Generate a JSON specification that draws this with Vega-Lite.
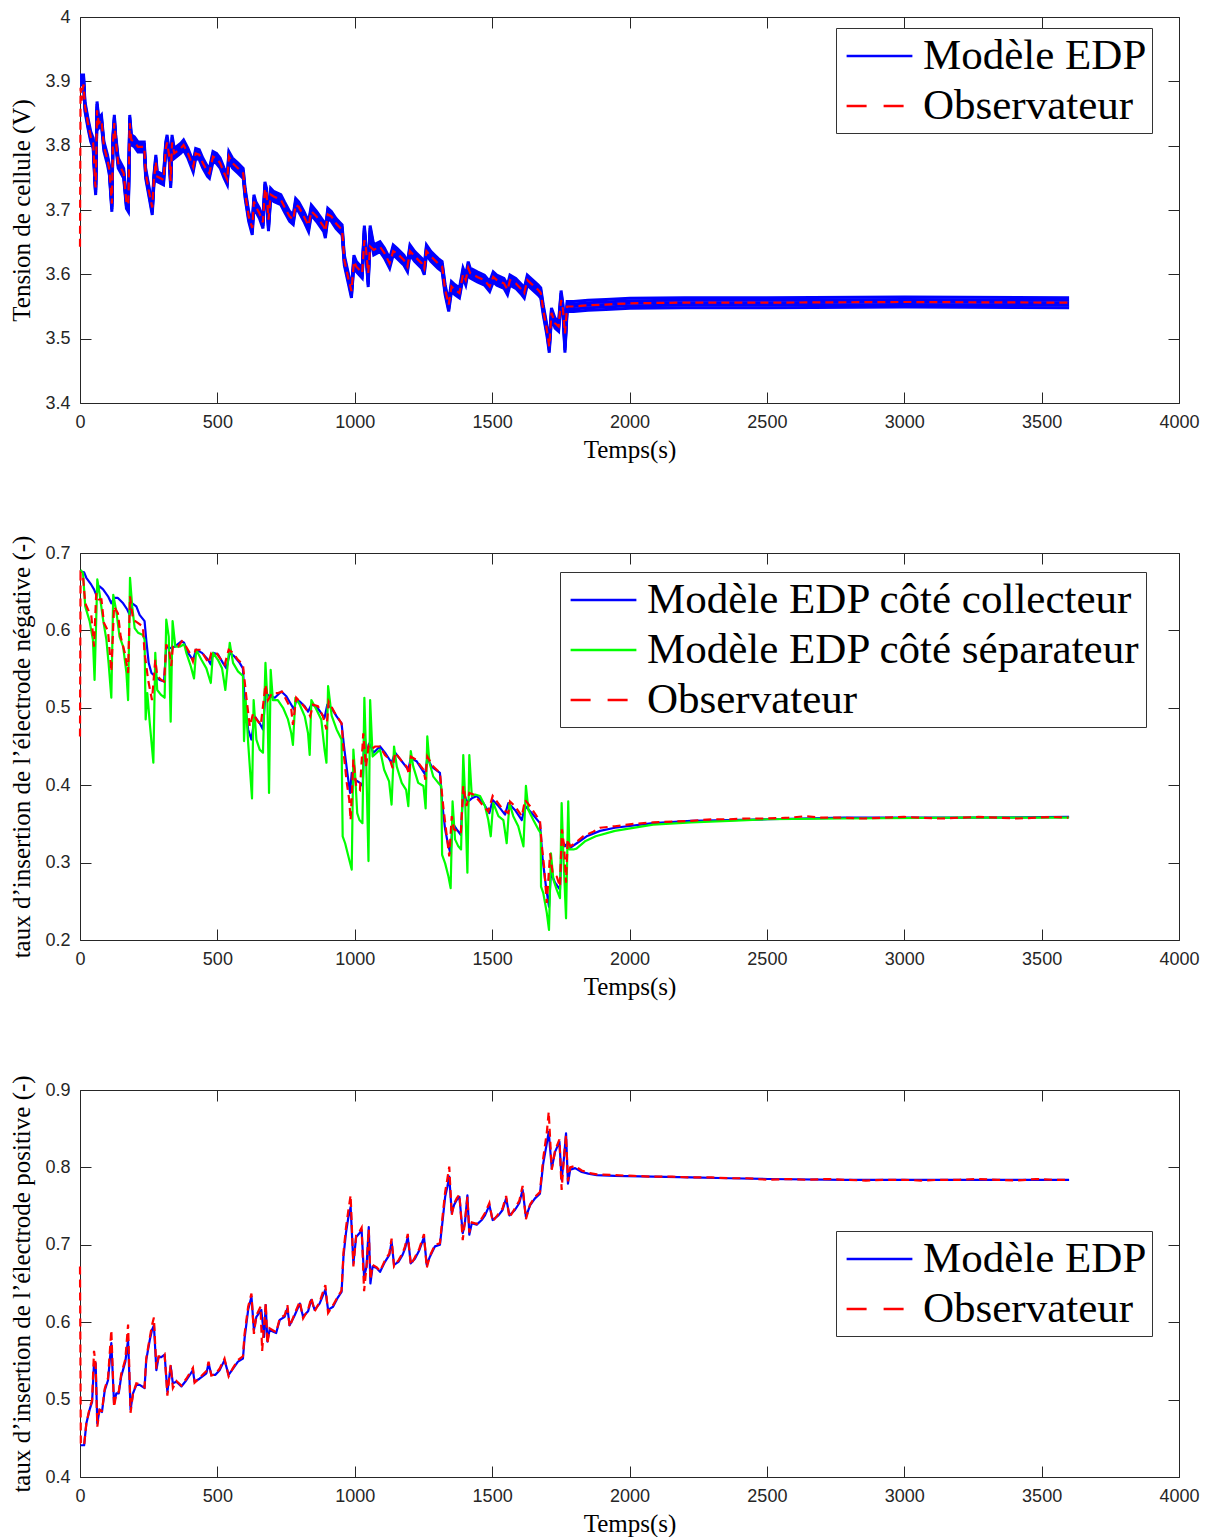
{
  "$schema": "https://vega.github.io/schema/vega-lite/v6.json",
  "background": "white",
  "padding": {"left": 9, "top": 8, "right": 5, "bottom": 5},
  "bounds": "flush",
  "spacing": 150,
  "datasets": {
    "p1": [
      {"s":"EDP","t":0,"v":3.902},{"s":"EDP","t":13,"v":3.902},{"s":"EDP","t":18,"v":3.861},{"s":"EDP","t":29,"v":3.835},{"s":"EDP","t":39,"v":3.814},{"s":"EDP","t":48,"v":3.804},{"s":"EDP","t":55,"v":3.742},{"s":"EDP","t":57,"v":3.731},{"s":"EDP","t":62,"v":3.861},{"s":"EDP","t":68,"v":3.835},{"s":"EDP","t":78,"v":3.84},{"s":"EDP","t":87,"v":3.799},{"s":"EDP","t":100,"v":3.778},{"s":"EDP","t":107,"v":3.762},{"s":"EDP","t":116,"v":3.705},{"s":"EDP","t":120,"v":3.809},{"s":"EDP","t":125,"v":3.84},{"s":"EDP","t":130,"v":3.809},{"s":"EDP","t":139,"v":3.773},{"s":"EDP","t":159,"v":3.757},{"s":"EDP","t":169,"v":3.71},{"s":"EDP","t":176,"v":3.705},{"s":"EDP","t":181,"v":3.84},{"s":"EDP","t":187,"v":3.809},{"s":"EDP","t":198,"v":3.806},{"s":"EDP","t":211,"v":3.798},{"s":"EDP","t":234,"v":3.798},{"s":"EDP","t":239,"v":3.757},{"s":"EDP","t":250,"v":3.731},{"s":"EDP","t":263,"v":3.7},{"s":"EDP","t":269,"v":3.747},{"s":"EDP","t":276,"v":3.778},{"s":"EDP","t":281,"v":3.752},{"s":"EDP","t":304,"v":3.747},{"s":"EDP","t":312,"v":3.798},{"s":"EDP","t":317,"v":3.809},{"s":"EDP","t":325,"v":3.783},{"s":"EDP","t":330,"v":3.742},{"s":"EDP","t":335,"v":3.809},{"s":"EDP","t":343,"v":3.788},{"s":"EDP","t":367,"v":3.796},{"s":"EDP","t":377,"v":3.801},{"s":"EDP","t":393,"v":3.788},{"s":"EDP","t":412,"v":3.767},{"s":"EDP","t":421,"v":3.788},{"s":"EDP","t":434,"v":3.786},{"s":"EDP","t":447,"v":3.773},{"s":"EDP","t":464,"v":3.76},{"s":"EDP","t":471,"v":3.757},{"s":"EDP","t":484,"v":3.783},{"s":"EDP","t":497,"v":3.78},{"s":"EDP","t":510,"v":3.773},{"s":"EDP","t":525,"v":3.757},{"s":"EDP","t":536,"v":3.747},{"s":"EDP","t":542,"v":3.783},{"s":"EDP","t":555,"v":3.773},{"s":"EDP","t":575,"v":3.765},{"s":"EDP","t":594,"v":3.757},{"s":"EDP","t":601,"v":3.726},{"s":"EDP","t":614,"v":3.69},{"s":"EDP","t":627,"v":3.669},{"s":"EDP","t":633,"v":3.716},{"s":"EDP","t":640,"v":3.705},{"s":"EDP","t":653,"v":3.695},{"s":"EDP","t":666,"v":3.679},{"s":"EDP","t":673,"v":3.736},{"s":"EDP","t":679,"v":3.726},{"s":"EDP","t":686,"v":3.675},{"s":"EDP","t":694,"v":3.726},{"s":"EDP","t":705,"v":3.721},{"s":"EDP","t":731,"v":3.716},{"s":"EDP","t":744,"v":3.705},{"s":"EDP","t":763,"v":3.69},{"s":"EDP","t":776,"v":3.685},{"s":"EDP","t":785,"v":3.71},{"s":"EDP","t":796,"v":3.705},{"s":"EDP","t":815,"v":3.69},{"s":"EDP","t":832,"v":3.674},{"s":"EDP","t":842,"v":3.7},{"s":"EDP","t":861,"v":3.69},{"s":"EDP","t":887,"v":3.674},{"s":"EDP","t":893,"v":3.664},{"s":"EDP","t":902,"v":3.695},{"s":"EDP","t":915,"v":3.69},{"s":"EDP","t":932,"v":3.679},{"s":"EDP","t":954,"v":3.669},{"s":"EDP","t":962,"v":3.622},{"s":"EDP","t":978,"v":3.591},{"s":"EDP","t":988,"v":3.571},{"s":"EDP","t":997,"v":3.622},{"s":"EDP","t":1006,"v":3.612},{"s":"EDP","t":1027,"v":3.602},{"s":"EDP","t":1035,"v":3.668},{"s":"EDP","t":1040,"v":3.643},{"s":"EDP","t":1049,"v":3.588},{"s":"EDP","t":1056,"v":3.668},{"s":"EDP","t":1069,"v":3.638},{"s":"EDP","t":1092,"v":3.643},{"s":"EDP","t":1108,"v":3.633},{"s":"EDP","t":1127,"v":3.617},{"s":"EDP","t":1140,"v":3.638},{"s":"EDP","t":1153,"v":3.633},{"s":"EDP","t":1179,"v":3.622},{"s":"EDP","t":1192,"v":3.612},{"s":"EDP","t":1201,"v":3.638},{"s":"EDP","t":1218,"v":3.628},{"s":"EDP","t":1244,"v":3.617},{"s":"EDP","t":1253,"v":3.607},{"s":"EDP","t":1261,"v":3.638},{"s":"EDP","t":1277,"v":3.628},{"s":"EDP","t":1303,"v":3.617},{"s":"EDP","t":1318,"v":3.612},{"s":"EDP","t":1329,"v":3.576},{"s":"EDP","t":1342,"v":3.55},{"s":"EDP","t":1352,"v":3.581},{"s":"EDP","t":1365,"v":3.576},{"s":"EDP","t":1381,"v":3.571},{"s":"EDP","t":1394,"v":3.602},{"s":"EDP","t":1404,"v":3.591},{"s":"EDP","t":1413,"v":3.612},{"s":"EDP","t":1420,"v":3.602},{"s":"EDP","t":1446,"v":3.596},{"s":"EDP","t":1472,"v":3.591},{"s":"EDP","t":1491,"v":3.581},{"s":"EDP","t":1504,"v":3.596},{"s":"EDP","t":1517,"v":3.591},{"s":"EDP","t":1543,"v":3.586},{"s":"EDP","t":1556,"v":3.576},{"s":"EDP","t":1565,"v":3.591},{"s":"EDP","t":1586,"v":3.586},{"s":"EDP","t":1608,"v":3.576},{"s":"EDP","t":1617,"v":3.571},{"s":"EDP","t":1628,"v":3.591},{"s":"EDP","t":1641,"v":3.586},{"s":"EDP","t":1667,"v":3.576},{"s":"EDP","t":1677,"v":3.571},{"s":"EDP","t":1686,"v":3.545},{"s":"EDP","t":1699,"v":3.514},{"s":"EDP","t":1708,"v":3.486},{"s":"EDP","t":1716,"v":3.54},{"s":"EDP","t":1729,"v":3.524},{"s":"EDP","t":1742,"v":3.519},{"s":"EDP","t":1751,"v":3.567},{"s":"EDP","t":1758,"v":3.545},{"s":"EDP","t":1765,"v":3.486},{"s":"EDP","t":1773,"v":3.55},{"s":"EDP","t":1797,"v":3.55},{"s":"EDP","t":1849,"v":3.552},{"s":"EDP","t":1914,"v":3.553},{"s":"EDP","t":2002,"v":3.555},{"s":"EDP","t":2200,"v":3.556},{"s":"EDP","t":2500,"v":3.556},{"s":"EDP","t":3000,"v":3.557},{"s":"EDP","t":3600,"v":3.556},
      {"s":"Obs","t":0,"v":3.643},{"s":"Obs","t":2,"v":3.89},{"s":"Obs","t":6,"v":3.87},{"s":"Obs","t":10,"v":3.89},{"s":"Obs","t":13,"v":3.895},{"s":"Obs","t":18,"v":3.861},{"s":"Obs","t":29,"v":3.835},{"s":"Obs","t":39,"v":3.814},{"s":"Obs","t":48,"v":3.804},{"s":"Obs","t":55,"v":3.742},{"s":"Obs","t":57,"v":3.735},{"s":"Obs","t":62,"v":3.855},{"s":"Obs","t":68,"v":3.835},{"s":"Obs","t":78,"v":3.84},{"s":"Obs","t":87,"v":3.799},{"s":"Obs","t":100,"v":3.778},{"s":"Obs","t":107,"v":3.762},{"s":"Obs","t":116,"v":3.71},{"s":"Obs","t":120,"v":3.805},{"s":"Obs","t":125,"v":3.835},{"s":"Obs","t":130,"v":3.809},{"s":"Obs","t":139,"v":3.773},{"s":"Obs","t":159,"v":3.757},{"s":"Obs","t":169,"v":3.712},{"s":"Obs","t":176,"v":3.708},{"s":"Obs","t":181,"v":3.835},{"s":"Obs","t":187,"v":3.809},{"s":"Obs","t":198,"v":3.806},{"s":"Obs","t":211,"v":3.798},{"s":"Obs","t":234,"v":3.798},{"s":"Obs","t":239,"v":3.757},{"s":"Obs","t":250,"v":3.731},{"s":"Obs","t":263,"v":3.704},{"s":"Obs","t":269,"v":3.747},{"s":"Obs","t":276,"v":3.775},{"s":"Obs","t":281,"v":3.752},{"s":"Obs","t":304,"v":3.747},{"s":"Obs","t":312,"v":3.795},{"s":"Obs","t":317,"v":3.805},{"s":"Obs","t":325,"v":3.783},{"s":"Obs","t":330,"v":3.745},{"s":"Obs","t":335,"v":3.805},{"s":"Obs","t":343,"v":3.788},{"s":"Obs","t":367,"v":3.796},{"s":"Obs","t":377,"v":3.801},{"s":"Obs","t":393,"v":3.788},{"s":"Obs","t":412,"v":3.767},{"s":"Obs","t":421,"v":3.788},{"s":"Obs","t":434,"v":3.786},{"s":"Obs","t":447,"v":3.773},{"s":"Obs","t":464,"v":3.76},{"s":"Obs","t":471,"v":3.757},{"s":"Obs","t":484,"v":3.783},{"s":"Obs","t":497,"v":3.78},{"s":"Obs","t":510,"v":3.773},{"s":"Obs","t":525,"v":3.757},{"s":"Obs","t":536,"v":3.747},{"s":"Obs","t":542,"v":3.783},{"s":"Obs","t":555,"v":3.773},{"s":"Obs","t":575,"v":3.765},{"s":"Obs","t":594,"v":3.757},{"s":"Obs","t":601,"v":3.726},{"s":"Obs","t":614,"v":3.69},{"s":"Obs","t":627,"v":3.672},{"s":"Obs","t":633,"v":3.713},{"s":"Obs","t":640,"v":3.705},{"s":"Obs","t":653,"v":3.695},{"s":"Obs","t":666,"v":3.681},{"s":"Obs","t":673,"v":3.733},{"s":"Obs","t":679,"v":3.726},{"s":"Obs","t":686,"v":3.685},{"s":"Obs","t":694,"v":3.724},{"s":"Obs","t":705,"v":3.721},{"s":"Obs","t":731,"v":3.716},{"s":"Obs","t":744,"v":3.705},{"s":"Obs","t":763,"v":3.69},{"s":"Obs","t":776,"v":3.685},{"s":"Obs","t":785,"v":3.708},{"s":"Obs","t":796,"v":3.705},{"s":"Obs","t":815,"v":3.69},{"s":"Obs","t":832,"v":3.676},{"s":"Obs","t":842,"v":3.698},{"s":"Obs","t":861,"v":3.69},{"s":"Obs","t":887,"v":3.674},{"s":"Obs","t":893,"v":3.667},{"s":"Obs","t":902,"v":3.693},{"s":"Obs","t":915,"v":3.69},{"s":"Obs","t":932,"v":3.679},{"s":"Obs","t":954,"v":3.669},{"s":"Obs","t":962,"v":3.622},{"s":"Obs","t":978,"v":3.591},{"s":"Obs","t":988,"v":3.574},{"s":"Obs","t":997,"v":3.62},{"s":"Obs","t":1006,"v":3.612},{"s":"Obs","t":1027,"v":3.602},{"s":"Obs","t":1035,"v":3.653},{"s":"Obs","t":1040,"v":3.643},{"s":"Obs","t":1049,"v":3.602},{"s":"Obs","t":1056,"v":3.643},{"s":"Obs","t":1069,"v":3.638},{"s":"Obs","t":1092,"v":3.643},{"s":"Obs","t":1108,"v":3.633},{"s":"Obs","t":1127,"v":3.617},{"s":"Obs","t":1140,"v":3.636},{"s":"Obs","t":1153,"v":3.633},{"s":"Obs","t":1179,"v":3.622},{"s":"Obs","t":1192,"v":3.612},{"s":"Obs","t":1201,"v":3.636},{"s":"Obs","t":1218,"v":3.628},{"s":"Obs","t":1244,"v":3.617},{"s":"Obs","t":1253,"v":3.609},{"s":"Obs","t":1261,"v":3.636},{"s":"Obs","t":1277,"v":3.628},{"s":"Obs","t":1303,"v":3.617},{"s":"Obs","t":1318,"v":3.612},{"s":"Obs","t":1329,"v":3.576},{"s":"Obs","t":1342,"v":3.553},{"s":"Obs","t":1352,"v":3.581},{"s":"Obs","t":1365,"v":3.576},{"s":"Obs","t":1381,"v":3.571},{"s":"Obs","t":1394,"v":3.6},{"s":"Obs","t":1404,"v":3.591},{"s":"Obs","t":1413,"v":3.61},{"s":"Obs","t":1420,"v":3.602},{"s":"Obs","t":1446,"v":3.596},{"s":"Obs","t":1472,"v":3.591},{"s":"Obs","t":1491,"v":3.581},{"s":"Obs","t":1504,"v":3.596},{"s":"Obs","t":1517,"v":3.591},{"s":"Obs","t":1543,"v":3.586},{"s":"Obs","t":1556,"v":3.576},{"s":"Obs","t":1565,"v":3.591},{"s":"Obs","t":1586,"v":3.586},{"s":"Obs","t":1608,"v":3.576},{"s":"Obs","t":1617,"v":3.571},{"s":"Obs","t":1628,"v":3.591},{"s":"Obs","t":1641,"v":3.586},{"s":"Obs","t":1667,"v":3.576},{"s":"Obs","t":1677,"v":3.571},{"s":"Obs","t":1686,"v":3.545},{"s":"Obs","t":1699,"v":3.514},{"s":"Obs","t":1708,"v":3.488},{"s":"Obs","t":1716,"v":3.54},{"s":"Obs","t":1729,"v":3.524},{"s":"Obs","t":1742,"v":3.519},{"s":"Obs","t":1751,"v":3.56},{"s":"Obs","t":1758,"v":3.545},{"s":"Obs","t":1765,"v":3.508},{"s":"Obs","t":1773,"v":3.55},{"s":"Obs","t":1797,"v":3.55},{"s":"Obs","t":1849,"v":3.552},{"s":"Obs","t":1914,"v":3.553},{"s":"Obs","t":2002,"v":3.555},{"s":"Obs","t":2200,"v":3.556},{"s":"Obs","t":2500,"v":3.556},{"s":"Obs","t":3000,"v":3.557},{"s":"Obs","t":3600,"v":3.556}
    ],
    "p2": [
      {"s":"coll","t":2,"v":0.676},{"s":"coll","t":15,"v":0.675},{"s":"coll","t":23,"v":0.668},{"s":"coll","t":41,"v":0.659},{"s":"coll","t":51,"v":0.653},{"s":"coll","t":59,"v":0.646},{"s":"coll","t":71,"v":0.657},{"s":"coll","t":84,"v":0.653},{"s":"coll","t":102,"v":0.644},{"s":"coll","t":114,"v":0.635},{"s":"coll","t":124,"v":0.642},{"s":"coll","t":138,"v":0.642},{"s":"coll","t":157,"v":0.635},{"s":"coll","t":172,"v":0.627},{"s":"coll","t":181,"v":0.62},{"s":"coll","t":190,"v":0.635},{"s":"coll","t":205,"v":0.631},{"s":"coll","t":217,"v":0.62},{"s":"coll","t":235,"v":0.612},{"s":"coll","t":241,"v":0.588},{"s":"coll","t":250,"v":0.558},{"s":"coll","t":260,"v":0.545},{"s":"coll","t":272,"v":0.541},{"s":"coll","t":290,"v":0.536},{"s":"coll","t":306,"v":0.534},{"s":"coll","t":314,"v":0.579},{"s":"coll","t":326,"v":0.577},{"s":"coll","t":345,"v":0.579},{"s":"coll","t":369,"v":0.586},{"s":"coll","t":379,"v":0.584},{"s":"coll","t":393,"v":0.571},{"s":"coll","t":411,"v":0.562},{"s":"coll","t":423,"v":0.575},{"s":"coll","t":444,"v":0.571},{"s":"coll","t":466,"v":0.562},{"s":"coll","t":476,"v":0.556},{"s":"coll","t":484,"v":0.571},{"s":"coll","t":502,"v":0.569},{"s":"coll","t":520,"v":0.558},{"s":"coll","t":533,"v":0.551},{"s":"coll","t":545,"v":0.571},{"s":"coll","t":563,"v":0.566},{"s":"coll","t":581,"v":0.558},{"s":"coll","t":593,"v":0.551},{"s":"coll","t":599,"v":0.51},{"s":"coll","t":612,"v":0.472},{"s":"coll","t":624,"v":0.459},{"s":"coll","t":636,"v":0.489},{"s":"coll","t":654,"v":0.48},{"s":"coll","t":666,"v":0.472},{"s":"coll","t":675,"v":0.519},{"s":"coll","t":690,"v":0.515},{"s":"coll","t":709,"v":0.513},{"s":"coll","t":733,"v":0.521},{"s":"coll","t":751,"v":0.515},{"s":"coll","t":769,"v":0.504},{"s":"coll","t":779,"v":0.498},{"s":"coll","t":787,"v":0.51},{"s":"coll","t":800,"v":0.508},{"s":"coll","t":818,"v":0.502},{"s":"coll","t":830,"v":0.495},{"s":"coll","t":842,"v":0.504},{"s":"coll","t":860,"v":0.502},{"s":"coll","t":878,"v":0.493},{"s":"coll","t":890,"v":0.487},{"s":"coll","t":900,"v":0.504},{"s":"coll","t":915,"v":0.5},{"s":"coll","t":934,"v":0.489},{"s":"coll","t":952,"v":0.48},{"s":"coll","t":961,"v":0.45},{"s":"coll","t":973,"v":0.416},{"s":"coll","t":983,"v":0.39},{"s":"coll","t":989,"v":0.416},{"s":"coll","t":1001,"v":0.407},{"s":"coll","t":1019,"v":0.403},{"s":"coll","t":1029,"v":0.399},{"s":"coll","t":1035,"v":0.467},{"s":"coll","t":1043,"v":0.442},{"s":"coll","t":1053,"v":0.454},{"s":"coll","t":1068,"v":0.442},{"s":"coll","t":1092,"v":0.45},{"s":"coll","t":1110,"v":0.442},{"s":"coll","t":1134,"v":0.429},{"s":"coll","t":1147,"v":0.442},{"s":"coll","t":1171,"v":0.431},{"s":"coll","t":1195,"v":0.42},{"s":"coll","t":1204,"v":0.435},{"s":"coll","t":1225,"v":0.431},{"s":"coll","t":1256,"v":0.414},{"s":"coll","t":1264,"v":0.435},{"s":"coll","t":1280,"v":0.424},{"s":"coll","t":1310,"v":0.416},{"s":"coll","t":1318,"v":0.377},{"s":"coll","t":1329,"v":0.343},{"s":"coll","t":1341,"v":0.321},{"s":"coll","t":1349,"v":0.312},{"s":"coll","t":1356,"v":0.351},{"s":"coll","t":1371,"v":0.343},{"s":"coll","t":1386,"v":0.336},{"s":"coll","t":1395,"v":0.394},{"s":"coll","t":1405,"v":0.381},{"s":"coll","t":1413,"v":0.379},{"s":"coll","t":1426,"v":0.383},{"s":"coll","t":1444,"v":0.386},{"s":"coll","t":1468,"v":0.377},{"s":"coll","t":1490,"v":0.364},{"s":"coll","t":1502,"v":0.381},{"s":"coll","t":1523,"v":0.373},{"s":"coll","t":1547,"v":0.362},{"s":"coll","t":1559,"v":0.377},{"s":"coll","t":1583,"v":0.368},{"s":"coll","t":1608,"v":0.355},{"s":"coll","t":1620,"v":0.373},{"s":"coll","t":1644,"v":0.364},{"s":"coll","t":1674,"v":0.351},{"s":"coll","t":1684,"v":0.304},{"s":"coll","t":1696,"v":0.269},{"s":"coll","t":1707,"v":0.243},{"s":"coll","t":1714,"v":0.287},{"s":"coll","t":1729,"v":0.274},{"s":"coll","t":1747,"v":0.265},{"s":"coll","t":1754,"v":0.33},{"s":"coll","t":1765,"v":0.321},{"s":"coll","t":1774,"v":0.325},{"s":"coll","t":1784,"v":0.319},{"s":"coll","t":1808,"v":0.325},{"s":"coll","t":1844,"v":0.334},{"s":"coll","t":1893,"v":0.341},{"s":"coll","t":1947,"v":0.345},{"s":"coll","t":2086,"v":0.351},{"s":"coll","t":2225,"v":0.354},{"s":"coll","t":2504,"v":0.356},{"s":"coll","t":2782,"v":0.358},{"s":"coll","t":3200,"v":0.358},{"s":"coll","t":3600,"v":0.359},
      {"s":"sep","t":2,"v":0.678},{"s":"sep","t":11,"v":0.674},{"s":"sep","t":19,"v":0.631},{"s":"sep","t":35,"v":0.612},{"s":"sep","t":47,"v":0.588},{"s":"sep","t":53,"v":0.536},{"s":"sep","t":63,"v":0.666},{"s":"sep","t":71,"v":0.648},{"s":"sep","t":84,"v":0.614},{"s":"sep","t":96,"v":0.588},{"s":"sep","t":104,"v":0.558},{"s":"sep","t":114,"v":0.513},{"s":"sep","t":121,"v":0.646},{"s":"sep","t":132,"v":0.625},{"s":"sep","t":144,"v":0.592},{"s":"sep","t":157,"v":0.579},{"s":"sep","t":169,"v":0.545},{"s":"sep","t":175,"v":0.51},{"s":"sep","t":182,"v":0.668},{"s":"sep","t":190,"v":0.631},{"s":"sep","t":199,"v":0.603},{"s":"sep","t":211,"v":0.597},{"s":"sep","t":229,"v":0.594},{"s":"sep","t":235,"v":0.588},{"s":"sep","t":239,"v":0.485},{"s":"sep","t":245,"v":0.519},{"s":"sep","t":254,"v":0.48},{"s":"sep","t":267,"v":0.429},{"s":"sep","t":274,"v":0.571},{"s":"sep","t":281,"v":0.523},{"s":"sep","t":294,"v":0.517},{"s":"sep","t":308,"v":0.513},{"s":"sep","t":314,"v":0.614},{"s":"sep","t":323,"v":0.592},{"s":"sep","t":330,"v":0.482},{"s":"sep","t":337,"v":0.612},{"s":"sep","t":347,"v":0.579},{"s":"sep","t":363,"v":0.579},{"s":"sep","t":379,"v":0.582},{"s":"sep","t":387,"v":0.571},{"s":"sep","t":403,"v":0.554},{"s":"sep","t":415,"v":0.538},{"s":"sep","t":423,"v":0.575},{"s":"sep","t":442,"v":0.562},{"s":"sep","t":460,"v":0.551},{"s":"sep","t":476,"v":0.532},{"s":"sep","t":484,"v":0.571},{"s":"sep","t":502,"v":0.562},{"s":"sep","t":517,"v":0.551},{"s":"sep","t":529,"v":0.523},{"s":"sep","t":545,"v":0.584},{"s":"sep","t":557,"v":0.558},{"s":"sep","t":575,"v":0.547},{"s":"sep","t":593,"v":0.541},{"s":"sep","t":597,"v":0.457},{"s":"sep","t":603,"v":0.51},{"s":"sep","t":612,"v":0.455},{"s":"sep","t":626,"v":0.383},{"s":"sep","t":632,"v":0.51},{"s":"sep","t":642,"v":0.459},{"s":"sep","t":654,"v":0.446},{"s":"sep","t":666,"v":0.442},{"s":"sep","t":675,"v":0.558},{"s":"sep","t":682,"v":0.51},{"s":"sep","t":688,"v":0.39},{"s":"sep","t":694,"v":0.549},{"s":"sep","t":702,"v":0.51},{"s":"sep","t":720,"v":0.51},{"s":"sep","t":739,"v":0.5},{"s":"sep","t":757,"v":0.485},{"s":"sep","t":769,"v":0.467},{"s":"sep","t":775,"v":0.452},{"s":"sep","t":784,"v":0.513},{"s":"sep","t":800,"v":0.504},{"s":"sep","t":818,"v":0.489},{"s":"sep","t":830,"v":0.467},{"s":"sep","t":836,"v":0.439},{"s":"sep","t":842,"v":0.51},{"s":"sep","t":860,"v":0.498},{"s":"sep","t":878,"v":0.485},{"s":"sep","t":890,"v":0.446},{"s":"sep","t":897,"v":0.429},{"s":"sep","t":903,"v":0.528},{"s":"sep","t":916,"v":0.49},{"s":"sep","t":934,"v":0.472},{"s":"sep","t":952,"v":0.459},{"s":"sep","t":956,"v":0.334},{"s":"sep","t":965,"v":0.325},{"s":"sep","t":977,"v":0.308},{"s":"sep","t":989,"v":0.291},{"s":"sep","t":995,"v":0.446},{"s":"sep","t":1001,"v":0.416},{"s":"sep","t":1009,"v":0.364},{"s":"sep","t":1017,"v":0.355},{"s":"sep","t":1028,"v":0.351},{"s":"sep","t":1035,"v":0.513},{"s":"sep","t":1041,"v":0.442},{"s":"sep","t":1050,"v":0.302},{"s":"sep","t":1056,"v":0.51},{"s":"sep","t":1065,"v":0.437},{"s":"sep","t":1080,"v":0.442},{"s":"sep","t":1092,"v":0.446},{"s":"sep","t":1107,"v":0.42},{"s":"sep","t":1125,"v":0.405},{"s":"sep","t":1134,"v":0.375},{"s":"sep","t":1143,"v":0.45},{"s":"sep","t":1153,"v":0.424},{"s":"sep","t":1171,"v":0.403},{"s":"sep","t":1187,"v":0.394},{"s":"sep","t":1195,"v":0.373},{"s":"sep","t":1204,"v":0.444},{"s":"sep","t":1213,"v":0.424},{"s":"sep","t":1231,"v":0.403},{"s":"sep","t":1250,"v":0.399},{"s":"sep","t":1258,"v":0.37},{"s":"sep","t":1264,"v":0.463},{"s":"sep","t":1272,"v":0.429},{"s":"sep","t":1286,"v":0.411},{"s":"sep","t":1304,"v":0.403},{"s":"sep","t":1315,"v":0.399},{"s":"sep","t":1318,"v":0.31},{"s":"sep","t":1329,"v":0.299},{"s":"sep","t":1341,"v":0.282},{"s":"sep","t":1349,"v":0.267},{"s":"sep","t":1356,"v":0.379},{"s":"sep","t":1365,"v":0.33},{"s":"sep","t":1377,"v":0.321},{"s":"sep","t":1387,"v":0.317},{"s":"sep","t":1395,"v":0.439},{"s":"sep","t":1401,"v":0.39},{"s":"sep","t":1410,"v":0.287},{"s":"sep","t":1417,"v":0.439},{"s":"sep","t":1426,"v":0.386},{"s":"sep","t":1438,"v":0.388},{"s":"sep","t":1456,"v":0.386},{"s":"sep","t":1474,"v":0.373},{"s":"sep","t":1486,"v":0.355},{"s":"sep","t":1495,"v":0.334},{"s":"sep","t":1504,"v":0.377},{"s":"sep","t":1523,"v":0.36},{"s":"sep","t":1541,"v":0.355},{"s":"sep","t":1553,"v":0.325},{"s":"sep","t":1563,"v":0.377},{"s":"sep","t":1577,"v":0.36},{"s":"sep","t":1595,"v":0.347},{"s":"sep","t":1614,"v":0.321},{"s":"sep","t":1623,"v":0.399},{"s":"sep","t":1632,"v":0.368},{"s":"sep","t":1650,"v":0.355},{"s":"sep","t":1668,"v":0.343},{"s":"sep","t":1677,"v":0.338},{"s":"sep","t":1678,"v":0.269},{"s":"sep","t":1686,"v":0.261},{"s":"sep","t":1699,"v":0.235},{"s":"sep","t":1707,"v":0.213},{"s":"sep","t":1714,"v":0.312},{"s":"sep","t":1723,"v":0.278},{"s":"sep","t":1735,"v":0.265},{"s":"sep","t":1747,"v":0.254},{"s":"sep","t":1753,"v":0.377},{"s":"sep","t":1759,"v":0.312},{"s":"sep","t":1769,"v":0.228},{"s":"sep","t":1777,"v":0.379},{"s":"sep","t":1781,"v":0.317},{"s":"sep","t":1796,"v":0.317},{"s":"sep","t":1807,"v":0.318},{"s":"sep","t":1840,"v":0.328},{"s":"sep","t":1877,"v":0.334},{"s":"sep","t":1947,"v":0.341},{"s":"sep","t":2086,"v":0.349},{"s":"sep","t":2225,"v":0.352},{"s":"sep","t":2364,"v":0.354},{"s":"sep","t":2504,"v":0.356},{"s":"sep","t":2782,"v":0.357},{"s":"sep","t":3200,"v":0.358},{"s":"sep","t":3600,"v":0.358},
      {"s":"Obs","t":0,"v":0.463},{"s":"Obs","t":2,"v":0.674},{"s":"Obs","t":11,"v":0.67},{"s":"Obs","t":19,"v":0.635},{"s":"Obs","t":29,"v":0.627},{"s":"Obs","t":41,"v":0.62},{"s":"Obs","t":51,"v":0.579},{"s":"Obs","t":59,"v":0.648},{"s":"Obs","t":68,"v":0.64},{"s":"Obs","t":78,"v":0.64},{"s":"Obs","t":87,"v":0.61},{"s":"Obs","t":102,"v":0.599},{"s":"Obs","t":114,"v":0.547},{"s":"Obs","t":124,"v":0.631},{"s":"Obs","t":138,"v":0.622},{"s":"Obs","t":148,"v":0.592},{"s":"Obs","t":163,"v":0.571},{"s":"Obs","t":175,"v":0.545},{"s":"Obs","t":182,"v":0.644},{"s":"Obs","t":193,"v":0.614},{"s":"Obs","t":209,"v":0.61},{"s":"Obs","t":229,"v":0.605},{"s":"Obs","t":235,"v":0.571},{"s":"Obs","t":248,"v":0.536},{"s":"Obs","t":262,"v":0.51},{"s":"Obs","t":274,"v":0.562},{"s":"Obs","t":281,"v":0.541},{"s":"Obs","t":296,"v":0.536},{"s":"Obs","t":306,"v":0.534},{"s":"Obs","t":314,"v":0.582},{"s":"Obs","t":326,"v":0.571},{"s":"Obs","t":332,"v":0.554},{"s":"Obs","t":338,"v":0.579},{"s":"Obs","t":357,"v":0.579},{"s":"Obs","t":371,"v":0.586},{"s":"Obs","t":381,"v":0.582},{"s":"Obs","t":399,"v":0.571},{"s":"Obs","t":411,"v":0.56},{"s":"Obs","t":420,"v":0.575},{"s":"Obs","t":439,"v":0.575},{"s":"Obs","t":454,"v":0.566},{"s":"Obs","t":468,"v":0.558},{"s":"Obs","t":478,"v":0.571},{"s":"Obs","t":496,"v":0.571},{"s":"Obs","t":514,"v":0.562},{"s":"Obs","t":527,"v":0.556},{"s":"Obs","t":541,"v":0.575},{"s":"Obs","t":557,"v":0.571},{"s":"Obs","t":575,"v":0.562},{"s":"Obs","t":593,"v":0.556},{"s":"Obs","t":605,"v":0.515},{"s":"Obs","t":618,"v":0.476},{"s":"Obs","t":630,"v":0.493},{"s":"Obs","t":642,"v":0.485},{"s":"Obs","t":658,"v":0.478},{"s":"Obs","t":666,"v":0.502},{"s":"Obs","t":675,"v":0.53},{"s":"Obs","t":684,"v":0.51},{"s":"Obs","t":699,"v":0.519},{"s":"Obs","t":721,"v":0.519},{"s":"Obs","t":735,"v":0.521},{"s":"Obs","t":751,"v":0.51},{"s":"Obs","t":769,"v":0.498},{"s":"Obs","t":775,"v":0.478},{"s":"Obs","t":787,"v":0.513},{"s":"Obs","t":806,"v":0.506},{"s":"Obs","t":830,"v":0.495},{"s":"Obs","t":838,"v":0.489},{"s":"Obs","t":848,"v":0.504},{"s":"Obs","t":866,"v":0.502},{"s":"Obs","t":884,"v":0.489},{"s":"Obs","t":897,"v":0.472},{"s":"Obs","t":905,"v":0.508},{"s":"Obs","t":928,"v":0.493},{"s":"Obs","t":952,"v":0.48},{"s":"Obs","t":961,"v":0.437},{"s":"Obs","t":971,"v":0.403},{"s":"Obs","t":980,"v":0.381},{"s":"Obs","t":985,"v":0.355},{"s":"Obs","t":995,"v":0.433},{"s":"Obs","t":1005,"v":0.399},{"s":"Obs","t":1019,"v":0.394},{"s":"Obs","t":1031,"v":0.467},{"s":"Obs","t":1041,"v":0.424},{"s":"Obs","t":1050,"v":0.45},{"s":"Obs","t":1058,"v":0.446},{"s":"Obs","t":1074,"v":0.45},{"s":"Obs","t":1092,"v":0.45},{"s":"Obs","t":1110,"v":0.439},{"s":"Obs","t":1128,"v":0.433},{"s":"Obs","t":1138,"v":0.422},{"s":"Obs","t":1147,"v":0.442},{"s":"Obs","t":1167,"v":0.433},{"s":"Obs","t":1189,"v":0.424},{"s":"Obs","t":1198,"v":0.414},{"s":"Obs","t":1204,"v":0.437},{"s":"Obs","t":1223,"v":0.433},{"s":"Obs","t":1250,"v":0.42},{"s":"Obs","t":1257,"v":0.407},{"s":"Obs","t":1264,"v":0.437},{"s":"Obs","t":1286,"v":0.424},{"s":"Obs","t":1310,"v":0.416},{"s":"Obs","t":1322,"v":0.373},{"s":"Obs","t":1335,"v":0.334},{"s":"Obs","t":1344,"v":0.308},{"s":"Obs","t":1353,"v":0.36},{"s":"Obs","t":1361,"v":0.343},{"s":"Obs","t":1377,"v":0.34},{"s":"Obs","t":1386,"v":0.338},{"s":"Obs","t":1395,"v":0.399},{"s":"Obs","t":1407,"v":0.373},{"s":"Obs","t":1417,"v":0.39},{"s":"Obs","t":1432,"v":0.388},{"s":"Obs","t":1450,"v":0.381},{"s":"Obs","t":1468,"v":0.373},{"s":"Obs","t":1486,"v":0.366},{"s":"Obs","t":1502,"v":0.386},{"s":"Obs","t":1517,"v":0.379},{"s":"Obs","t":1541,"v":0.368},{"s":"Obs","t":1559,"v":0.364},{"s":"Obs","t":1565,"v":0.379},{"s":"Obs","t":1583,"v":0.373},{"s":"Obs","t":1608,"v":0.36},{"s":"Obs","t":1620,"v":0.381},{"s":"Obs","t":1638,"v":0.373},{"s":"Obs","t":1662,"v":0.36},{"s":"Obs","t":1674,"v":0.355},{"s":"Obs","t":1680,"v":0.325},{"s":"Obs","t":1689,"v":0.295},{"s":"Obs","t":1699,"v":0.248},{"s":"Obs","t":1711,"v":0.312},{"s":"Obs","t":1720,"v":0.287},{"s":"Obs","t":1735,"v":0.282},{"s":"Obs","t":1747,"v":0.269},{"s":"Obs","t":1754,"v":0.343},{"s":"Obs","t":1762,"v":0.321},{"s":"Obs","t":1769,"v":0.274},{"s":"Obs","t":1775,"v":0.33},{"s":"Obs","t":1784,"v":0.321},{"s":"Obs","t":1802,"v":0.325},{"s":"Obs","t":1832,"v":0.334},{"s":"Obs","t":1868,"v":0.34},{"s":"Obs","t":1893,"v":0.345},{"s":"Obs","t":1947,"v":0.347},{"s":"Obs","t":2016,"v":0.35},{"s":"Obs","t":2086,"v":0.352},{"s":"Obs","t":2156,"v":0.353},{"s":"Obs","t":2225,"v":0.354},{"s":"Obs","t":2300,"v":0.356},{"s":"Obs","t":2364,"v":0.356},{"s":"Obs","t":2430,"v":0.357},{"s":"Obs","t":2504,"v":0.357},{"s":"Obs","t":2580,"v":0.358},{"s":"Obs","t":2643,"v":0.36},{"s":"Obs","t":2700,"v":0.358},{"s":"Obs","t":2782,"v":0.358},{"s":"Obs","t":2850,"v":0.357},{"s":"Obs","t":2922,"v":0.358},{"s":"Obs","t":3000,"v":0.359},{"s":"Obs","t":3061,"v":0.358},{"s":"Obs","t":3130,"v":0.357},{"s":"Obs","t":3200,"v":0.358},{"s":"Obs","t":3270,"v":0.359},{"s":"Obs","t":3340,"v":0.358},{"s":"Obs","t":3410,"v":0.357},{"s":"Obs","t":3479,"v":0.358},{"s":"Obs","t":3540,"v":0.359},{"s":"Obs","t":3597,"v":0.358}
    ],
    "p3": [
      {"s":"EDP","t":2,"v":0.441},{"s":"EDP","t":15,"v":0.441},{"s":"EDP","t":23,"v":0.469},{"s":"EDP","t":35,"v":0.487},{"s":"EDP","t":44,"v":0.497},{"s":"EDP","t":51,"v":0.547},{"s":"EDP","t":57,"v":0.547},{"s":"EDP","t":63,"v":0.469},{"s":"EDP","t":71,"v":0.487},{"s":"EDP","t":80,"v":0.484},{"s":"EDP","t":90,"v":0.512},{"s":"EDP","t":102,"v":0.525},{"s":"EDP","t":114,"v":0.573},{"s":"EDP","t":124,"v":0.495},{"s":"EDP","t":132,"v":0.508},{"s":"EDP","t":141,"v":0.508},{"s":"EDP","t":150,"v":0.53},{"s":"EDP","t":165,"v":0.549},{"s":"EDP","t":175,"v":0.577},{"s":"EDP","t":184,"v":0.487},{"s":"EDP","t":193,"v":0.508},{"s":"EDP","t":205,"v":0.519},{"s":"EDP","t":217,"v":0.519},{"s":"EDP","t":235,"v":0.515},{"s":"EDP","t":241,"v":0.551},{"s":"EDP","t":254,"v":0.577},{"s":"EDP","t":262,"v":0.59},{"s":"EDP","t":269,"v":0.596},{"s":"EDP","t":278,"v":0.538},{"s":"EDP","t":286,"v":0.555},{"s":"EDP","t":296,"v":0.555},{"s":"EDP","t":308,"v":0.558},{"s":"EDP","t":318,"v":0.51},{"s":"EDP","t":330,"v":0.543},{"s":"EDP","t":338,"v":0.521},{"s":"EDP","t":351,"v":0.523},{"s":"EDP","t":369,"v":0.517},{"s":"EDP","t":387,"v":0.525},{"s":"EDP","t":411,"v":0.538},{"s":"EDP","t":417,"v":0.523},{"s":"EDP","t":435,"v":0.527},{"s":"EDP","t":460,"v":0.534},{"s":"EDP","t":468,"v":0.547},{"s":"EDP","t":478,"v":0.532},{"s":"EDP","t":493,"v":0.532},{"s":"EDP","t":508,"v":0.538},{"s":"EDP","t":526,"v":0.551},{"s":"EDP","t":541,"v":0.532},{"s":"EDP","t":557,"v":0.54},{"s":"EDP","t":575,"v":0.549},{"s":"EDP","t":593,"v":0.553},{"s":"EDP","t":599,"v":0.579},{"s":"EDP","t":612,"v":0.616},{"s":"EDP","t":624,"v":0.633},{"s":"EDP","t":633,"v":0.59},{"s":"EDP","t":642,"v":0.607},{"s":"EDP","t":660,"v":0.616},{"s":"EDP","t":670,"v":0.581},{"s":"EDP","t":676,"v":0.622},{"s":"EDP","t":682,"v":0.575},{"s":"EDP","t":690,"v":0.59},{"s":"EDP","t":714,"v":0.586},{"s":"EDP","t":727,"v":0.603},{"s":"EDP","t":745,"v":0.607},{"s":"EDP","t":755,"v":0.618},{"s":"EDP","t":763,"v":0.596},{"s":"EDP","t":779,"v":0.607},{"s":"EDP","t":800,"v":0.624},{"s":"EDP","t":812,"v":0.607},{"s":"EDP","t":830,"v":0.614},{"s":"EDP","t":842,"v":0.629},{"s":"EDP","t":854,"v":0.616},{"s":"EDP","t":872,"v":0.624},{"s":"EDP","t":893,"v":0.642},{"s":"EDP","t":903,"v":0.616},{"s":"EDP","t":921,"v":0.62},{"s":"EDP","t":937,"v":0.631},{"s":"EDP","t":952,"v":0.639},{"s":"EDP","t":959,"v":0.685},{"s":"EDP","t":968,"v":0.715},{"s":"EDP","t":977,"v":0.736},{"s":"EDP","t":985,"v":0.749},{"s":"EDP","t":995,"v":0.676},{"s":"EDP","t":1005,"v":0.71},{"s":"EDP","t":1017,"v":0.715},{"s":"EDP","t":1025,"v":0.719},{"s":"EDP","t":1034,"v":0.659},{"s":"EDP","t":1043,"v":0.672},{"s":"EDP","t":1051,"v":0.723},{"s":"EDP","t":1057,"v":0.65},{"s":"EDP","t":1065,"v":0.672},{"s":"EDP","t":1080,"v":0.67},{"s":"EDP","t":1092,"v":0.665},{"s":"EDP","t":1110,"v":0.678},{"s":"EDP","t":1126,"v":0.687},{"s":"EDP","t":1134,"v":0.704},{"s":"EDP","t":1143,"v":0.674},{"s":"EDP","t":1159,"v":0.678},{"s":"EDP","t":1174,"v":0.687},{"s":"EDP","t":1183,"v":0.695},{"s":"EDP","t":1193,"v":0.71},{"s":"EDP","t":1204,"v":0.676},{"s":"EDP","t":1219,"v":0.682},{"s":"EDP","t":1235,"v":0.693},{"s":"EDP","t":1252,"v":0.71},{"s":"EDP","t":1262,"v":0.674},{"s":"EDP","t":1274,"v":0.685},{"s":"EDP","t":1292,"v":0.698},{"s":"EDP","t":1310,"v":0.7},{"s":"EDP","t":1320,"v":0.732},{"s":"EDP","t":1329,"v":0.762},{"s":"EDP","t":1337,"v":0.775},{"s":"EDP","t":1344,"v":0.788},{"s":"EDP","t":1353,"v":0.741},{"s":"EDP","t":1361,"v":0.751},{"s":"EDP","t":1371,"v":0.758},{"s":"EDP","t":1381,"v":0.762},{"s":"EDP","t":1393,"v":0.715},{"s":"EDP","t":1401,"v":0.728},{"s":"EDP","t":1410,"v":0.764},{"s":"EDP","t":1417,"v":0.713},{"s":"EDP","t":1426,"v":0.728},{"s":"EDP","t":1444,"v":0.726},{"s":"EDP","t":1462,"v":0.732},{"s":"EDP","t":1474,"v":0.738},{"s":"EDP","t":1490,"v":0.751},{"s":"EDP","t":1502,"v":0.732},{"s":"EDP","t":1523,"v":0.738},{"s":"EDP","t":1538,"v":0.745},{"s":"EDP","t":1551,"v":0.76},{"s":"EDP","t":1563,"v":0.738},{"s":"EDP","t":1583,"v":0.745},{"s":"EDP","t":1599,"v":0.754},{"s":"EDP","t":1611,"v":0.771},{"s":"EDP","t":1623,"v":0.736},{"s":"EDP","t":1638,"v":0.751},{"s":"EDP","t":1656,"v":0.76},{"s":"EDP","t":1674,"v":0.766},{"s":"EDP","t":1686,"v":0.805},{"s":"EDP","t":1699,"v":0.831},{"s":"EDP","t":1706,"v":0.846},{"s":"EDP","t":1717,"v":0.799},{"s":"EDP","t":1729,"v":0.82},{"s":"EDP","t":1745,"v":0.833},{"s":"EDP","t":1753,"v":0.784},{"s":"EDP","t":1762,"v":0.814},{"s":"EDP","t":1769,"v":0.844},{"s":"EDP","t":1776,"v":0.779},{"s":"EDP","t":1784,"v":0.797},{"s":"EDP","t":1802,"v":0.799},{"s":"EDP","t":1826,"v":0.794},{"s":"EDP","t":1850,"v":0.792},{"s":"EDP","t":1881,"v":0.79},{"s":"EDP","t":1947,"v":0.789},{"s":"EDP","t":2086,"v":0.788},{"s":"EDP","t":2225,"v":0.787},{"s":"EDP","t":2364,"v":0.786},{"s":"EDP","t":2504,"v":0.785},{"s":"EDP","t":2782,"v":0.784},{"s":"EDP","t":3200,"v":0.784},{"s":"EDP","t":3600,"v":0.784},
      {"s":"Obs","t":0,"v":0.672},{"s":"Obs","t":3,"v":0.444},{"s":"Obs","t":15,"v":0.441},{"s":"Obs","t":23,"v":0.469},{"s":"Obs","t":35,"v":0.489},{"s":"Obs","t":44,"v":0.499},{"s":"Obs","t":51,"v":0.563},{"s":"Obs","t":57,"v":0.545},{"s":"Obs","t":63,"v":0.465},{"s":"Obs","t":71,"v":0.487},{"s":"Obs","t":80,"v":0.486},{"s":"Obs","t":90,"v":0.514},{"s":"Obs","t":102,"v":0.528},{"s":"Obs","t":114,"v":0.59},{"s":"Obs","t":124,"v":0.49},{"s":"Obs","t":132,"v":0.508},{"s":"Obs","t":141,"v":0.51},{"s":"Obs","t":150,"v":0.533},{"s":"Obs","t":165,"v":0.552},{"s":"Obs","t":175,"v":0.597},{"s":"Obs","t":184,"v":0.483},{"s":"Obs","t":193,"v":0.508},{"s":"Obs","t":205,"v":0.521},{"s":"Obs","t":217,"v":0.52},{"s":"Obs","t":235,"v":0.516},{"s":"Obs","t":241,"v":0.553},{"s":"Obs","t":254,"v":0.58},{"s":"Obs","t":262,"v":0.596},{"s":"Obs","t":269,"v":0.606},{"s":"Obs","t":278,"v":0.54},{"s":"Obs","t":286,"v":0.556},{"s":"Obs","t":296,"v":0.556},{"s":"Obs","t":308,"v":0.559},{"s":"Obs","t":318,"v":0.505},{"s":"Obs","t":330,"v":0.545},{"s":"Obs","t":338,"v":0.515},{"s":"Obs","t":351,"v":0.524},{"s":"Obs","t":369,"v":0.518},{"s":"Obs","t":387,"v":0.527},{"s":"Obs","t":411,"v":0.541},{"s":"Obs","t":417,"v":0.522},{"s":"Obs","t":435,"v":0.528},{"s":"Obs","t":460,"v":0.537},{"s":"Obs","t":468,"v":0.549},{"s":"Obs","t":478,"v":0.531},{"s":"Obs","t":493,"v":0.533},{"s":"Obs","t":508,"v":0.54},{"s":"Obs","t":526,"v":0.553},{"s":"Obs","t":541,"v":0.53},{"s":"Obs","t":557,"v":0.541},{"s":"Obs","t":575,"v":0.551},{"s":"Obs","t":593,"v":0.556},{"s":"Obs","t":599,"v":0.585},{"s":"Obs","t":612,"v":0.62},{"s":"Obs","t":624,"v":0.637},{"s":"Obs","t":633,"v":0.585},{"s":"Obs","t":642,"v":0.609},{"s":"Obs","t":657,"v":0.62},{"s":"Obs","t":663,"v":0.563},{"s":"Obs","t":676,"v":0.625},{"s":"Obs","t":682,"v":0.572},{"s":"Obs","t":690,"v":0.592},{"s":"Obs","t":714,"v":0.587},{"s":"Obs","t":727,"v":0.605},{"s":"Obs","t":745,"v":0.609},{"s":"Obs","t":755,"v":0.622},{"s":"Obs","t":763,"v":0.594},{"s":"Obs","t":779,"v":0.609},{"s":"Obs","t":800,"v":0.627},{"s":"Obs","t":812,"v":0.605},{"s":"Obs","t":830,"v":0.616},{"s":"Obs","t":842,"v":0.632},{"s":"Obs","t":854,"v":0.614},{"s":"Obs","t":872,"v":0.626},{"s":"Obs","t":893,"v":0.648},{"s":"Obs","t":903,"v":0.612},{"s":"Obs","t":921,"v":0.622},{"s":"Obs","t":937,"v":0.632},{"s":"Obs","t":952,"v":0.641},{"s":"Obs","t":959,"v":0.69},{"s":"Obs","t":968,"v":0.722},{"s":"Obs","t":977,"v":0.745},{"s":"Obs","t":985,"v":0.764},{"s":"Obs","t":995,"v":0.672},{"s":"Obs","t":1005,"v":0.712},{"s":"Obs","t":1017,"v":0.717},{"s":"Obs","t":1025,"v":0.722},{"s":"Obs","t":1034,"v":0.64},{"s":"Obs","t":1043,"v":0.673},{"s":"Obs","t":1051,"v":0.72},{"s":"Obs","t":1057,"v":0.655},{"s":"Obs","t":1065,"v":0.674},{"s":"Obs","t":1080,"v":0.671},{"s":"Obs","t":1092,"v":0.666},{"s":"Obs","t":1110,"v":0.68},{"s":"Obs","t":1126,"v":0.689},{"s":"Obs","t":1134,"v":0.708},{"s":"Obs","t":1143,"v":0.672},{"s":"Obs","t":1159,"v":0.68},{"s":"Obs","t":1174,"v":0.689},{"s":"Obs","t":1183,"v":0.698},{"s":"Obs","t":1193,"v":0.714},{"s":"Obs","t":1204,"v":0.674},{"s":"Obs","t":1219,"v":0.684},{"s":"Obs","t":1235,"v":0.695},{"s":"Obs","t":1252,"v":0.714},{"s":"Obs","t":1262,"v":0.67},{"s":"Obs","t":1274,"v":0.686},{"s":"Obs","t":1292,"v":0.7},{"s":"Obs","t":1310,"v":0.702},{"s":"Obs","t":1320,"v":0.738},{"s":"Obs","t":1329,"v":0.768},{"s":"Obs","t":1337,"v":0.785},{"s":"Obs","t":1344,"v":0.801},{"s":"Obs","t":1353,"v":0.738},{"s":"Obs","t":1361,"v":0.753},{"s":"Obs","t":1371,"v":0.76},{"s":"Obs","t":1381,"v":0.765},{"s":"Obs","t":1393,"v":0.706},{"s":"Obs","t":1401,"v":0.73},{"s":"Obs","t":1410,"v":0.762},{"s":"Obs","t":1417,"v":0.716},{"s":"Obs","t":1426,"v":0.729},{"s":"Obs","t":1444,"v":0.727},{"s":"Obs","t":1462,"v":0.734},{"s":"Obs","t":1474,"v":0.741},{"s":"Obs","t":1490,"v":0.754},{"s":"Obs","t":1502,"v":0.73},{"s":"Obs","t":1523,"v":0.74},{"s":"Obs","t":1538,"v":0.747},{"s":"Obs","t":1551,"v":0.763},{"s":"Obs","t":1563,"v":0.735},{"s":"Obs","t":1583,"v":0.747},{"s":"Obs","t":1599,"v":0.757},{"s":"Obs","t":1611,"v":0.776},{"s":"Obs","t":1623,"v":0.733},{"s":"Obs","t":1638,"v":0.752},{"s":"Obs","t":1656,"v":0.762},{"s":"Obs","t":1674,"v":0.768},{"s":"Obs","t":1686,"v":0.812},{"s":"Obs","t":1699,"v":0.845},{"s":"Obs","t":1706,"v":0.872},{"s":"Obs","t":1717,"v":0.797},{"s":"Obs","t":1729,"v":0.822},{"s":"Obs","t":1745,"v":0.836},{"s":"Obs","t":1753,"v":0.771},{"s":"Obs","t":1762,"v":0.816},{"s":"Obs","t":1769,"v":0.842},{"s":"Obs","t":1776,"v":0.782},{"s":"Obs","t":1784,"v":0.8},{"s":"Obs","t":1802,"v":0.802},{"s":"Obs","t":1826,"v":0.796},{"s":"Obs","t":1850,"v":0.793},{"s":"Obs","t":1881,"v":0.791},{"s":"Obs","t":1947,"v":0.79},{"s":"Obs","t":2016,"v":0.789},{"s":"Obs","t":2086,"v":0.788},{"s":"Obs","t":2156,"v":0.788},{"s":"Obs","t":2225,"v":0.787},{"s":"Obs","t":2300,"v":0.787},{"s":"Obs","t":2364,"v":0.786},{"s":"Obs","t":2430,"v":0.786},{"s":"Obs","t":2504,"v":0.784},{"s":"Obs","t":2580,"v":0.785},{"s":"Obs","t":2643,"v":0.784},{"s":"Obs","t":2720,"v":0.785},{"s":"Obs","t":2782,"v":0.784},{"s":"Obs","t":2860,"v":0.783},{"s":"Obs","t":2922,"v":0.784},{"s":"Obs","t":3000,"v":0.784},{"s":"Obs","t":3061,"v":0.783},{"s":"Obs","t":3130,"v":0.784},{"s":"Obs","t":3200,"v":0.784},{"s":"Obs","t":3270,"v":0.785},{"s":"Obs","t":3340,"v":0.784},{"s":"Obs","t":3410,"v":0.783},{"s":"Obs","t":3479,"v":0.785},{"s":"Obs","t":3540,"v":0.784},{"s":"Obs","t":3597,"v":0.784}
    ]
  },
  "vconcat": [
    {
      "width": 1099, "height": 386,
      "data": {"name": "p1"},
      "layer": [
        {
          "transform": [{"filter": "datum.s === 'EDP'"}],
          "mark": {"type": "line", "strokeWidth": 3, "yOffset": -5, "color": "#0000ff"},
          "encoding": {"x": {"field": "t", "type": "quantitative", "axis": null}, "y": {"field": "v", "type": "quantitative", "axis": null}}
        },
        {
          "transform": [{"filter": "datum.s === 'EDP'"}],
          "mark": {"type": "line", "strokeWidth": 3, "yOffset": -2.5, "color": "#0000ff"},
          "encoding": {"x": {"field": "t", "type": "quantitative", "axis": null}, "y": {"field": "v", "type": "quantitative", "axis": null}}
        },
        {
          "transform": [{"filter": "datum.s === 'EDP'"}],
          "mark": {"type": "line", "strokeWidth": 3, "yOffset": 2.5, "color": "#0000ff"},
          "encoding": {"x": {"field": "t", "type": "quantitative", "axis": null}, "y": {"field": "v", "type": "quantitative", "axis": null}}
        },
        {
          "transform": [{"filter": "datum.s === 'EDP'"}],
          "mark": {"type": "line", "strokeWidth": 3, "yOffset": 5, "color": "#0000ff"},
          "encoding": {"x": {"field": "t", "type": "quantitative", "axis": null}, "y": {"field": "v", "type": "quantitative", "axis": null}}
        },
        {
          "transform": [{"filter": "datum.s === 'EDP'"}],
          "mark": {"type": "line", "strokeWidth": 3},
          "encoding": {
            "x": {"field": "t", "type": "quantitative", "scale": {"domain": [0, 4000], "nice": false}, "axis": {"orient": "bottom", "values": [0,500,1000,1500,2000,2500,3000,3500,4000], "format": "d", "title": "Temps(s)"}},
            "y": {"field": "v", "type": "quantitative", "scale": {"domain": [3.4, 4], "nice": false, "zero": false}, "axis": {"orient": "left", "values": [3.4,3.5,3.6,3.7,3.8,3.9,4], "format": "~g", "title": "Tension de cellule (V)"}},
            "color": {"field": "s", "type": "nominal", "scale": {"domain": ["EDP", "Obs"], "range": ["#0000ff", "#ff0000"]},
              "legend": {"orient": "none", "legendX": 756, "legendY": 11, "labelExpr": "datum.label === 'Obs' ? 'Observateur' : 'Modèle EDP'",
                "encode": {"symbols": {"update": {"strokeDash": {"signal": "datum.value === 'Obs' ? [20, 17] : [1, 0]"}, "strokeWidth": {"value": 2.5}}}}}}
          }
        },
        {
          "transform": [{"filter": "datum.s === 'Obs'"}],
          "mark": {"type": "line", "strokeWidth": 2.2, "strokeDash": [8, 5]},
          "encoding": {
            "x": {"field": "t", "type": "quantitative", "axis": {"orient": "top", "values": [0,500,1000,1500,2000,2500,3000,3500,4000], "labels": false, "title": null}},
            "y": {"field": "v", "type": "quantitative", "axis": {"orient": "right", "values": [3.4,3.5,3.6,3.7,3.8,3.9,4], "labels": false, "title": null}},
            "color": {"field": "s", "type": "nominal", "scale": {"domain": ["EDP", "Obs"], "range": ["#0000ff", "#ff0000"]},
              "legend": {"orient": "none", "legendX": 756, "legendY": 11, "labelExpr": "datum.label === 'Obs' ? 'Observateur' : 'Modèle EDP'",
                "encode": {"symbols": {"update": {"strokeDash": {"signal": "datum.value === 'Obs' ? [20, 17] : [1, 0]"}, "strokeWidth": {"value": 2.5}}}}}}
          }
        }
      ],
      "resolve": {"axis": {"x": "independent", "y": "independent"}}
    },
    {
      "width": 1099, "height": 387,
      "data": {"name": "p2"},
      "layer": [
        {
          "transform": [{"filter": "datum.s !== 'Obs'"}],
          "mark": {"type": "line", "strokeWidth": 2.2, "strokeJoin": "round"},
          "encoding": {
            "x": {"field": "t", "type": "quantitative", "scale": {"domain": [0, 4000], "nice": false}, "axis": {"orient": "bottom", "values": [0,500,1000,1500,2000,2500,3000,3500,4000], "format": "d", "title": "Temps(s)"}},
            "y": {"field": "v", "type": "quantitative", "scale": {"domain": [0.2, 0.7], "nice": false, "zero": false}, "axis": {"orient": "left", "values": [0.2,0.3,0.4,0.5,0.6,0.7], "format": "~g", "title": "taux d’insertion de l’électrode négative (-)"}},
            "color": {"field": "s", "type": "nominal", "scale": {"domain": ["coll", "sep", "Obs"], "range": ["#0000ff", "#00ff00", "#ff0000"]},
              "legend": {"orient": "none", "legendX": 480, "legendY": 19, "labelExpr": "datum.label === 'Obs' ? 'Observateur' : datum.label === 'coll' ? 'Modèle EDP côté collecteur' : 'Modèle EDP côté séparateur'",
                "encode": {"symbols": {"update": {"strokeDash": {"signal": "datum.value === 'Obs' ? [20, 17] : [1, 0]"}, "strokeWidth": {"value": 2.5}}}}}}
          }
        },
        {
          "transform": [{"filter": "datum.s === 'Obs'"}],
          "mark": {"type": "line", "strokeWidth": 2.2, "strokeDash": [8, 5]},
          "encoding": {
            "x": {"field": "t", "type": "quantitative", "axis": {"orient": "top", "values": [0,500,1000,1500,2000,2500,3000,3500,4000], "labels": false, "title": null}},
            "y": {"field": "v", "type": "quantitative", "axis": {"orient": "right", "values": [0.2,0.3,0.4,0.5,0.6,0.7], "labels": false, "title": null}},
            "color": {"field": "s", "type": "nominal", "scale": {"domain": ["coll", "sep", "Obs"], "range": ["#0000ff", "#00ff00", "#ff0000"]},
              "legend": {"orient": "none", "legendX": 480, "legendY": 19, "labelExpr": "datum.label === 'Obs' ? 'Observateur' : datum.label === 'coll' ? 'Modèle EDP côté collecteur' : 'Modèle EDP côté séparateur'",
                "encode": {"symbols": {"update": {"strokeDash": {"signal": "datum.value === 'Obs' ? [20, 17] : [1, 0]"}, "strokeWidth": {"value": 2.5}}}}}}
          }
        }
      ],
      "resolve": {"axis": {"x": "independent", "y": "independent"}}
    },
    {
      "width": 1099, "height": 387,
      "data": {"name": "p3"},
      "layer": [
        {
          "transform": [{"filter": "datum.s === 'EDP'"}],
          "mark": {"type": "line", "strokeWidth": 2.2, "strokeJoin": "round"},
          "encoding": {
            "x": {"field": "t", "type": "quantitative", "scale": {"domain": [0, 4000], "nice": false}, "axis": {"orient": "bottom", "values": [0,500,1000,1500,2000,2500,3000,3500,4000], "format": "d", "title": "Temps(s)"}},
            "y": {"field": "v", "type": "quantitative", "scale": {"domain": [0.4, 0.9], "nice": false, "zero": false}, "axis": {"orient": "left", "values": [0.4,0.5,0.6,0.7,0.8,0.9], "format": "~g", "title": "taux d’insertion de l’électrode positive (-)"}},
            "color": {"field": "s", "type": "nominal", "scale": {"domain": ["EDP", "Obs"], "range": ["#0000ff", "#ff0000"]},
              "legend": {"orient": "none", "legendX": 756, "legendY": 141, "labelExpr": "datum.label === 'Obs' ? 'Observateur' : 'Modèle EDP'",
                "encode": {"symbols": {"update": {"strokeDash": {"signal": "datum.value === 'Obs' ? [20, 17] : [1, 0]"}, "strokeWidth": {"value": 2.5}}}}}}
          }
        },
        {
          "transform": [{"filter": "datum.s === 'Obs'"}],
          "mark": {"type": "line", "strokeWidth": 2.2, "strokeDash": [8, 5]},
          "encoding": {
            "x": {"field": "t", "type": "quantitative", "axis": {"orient": "top", "values": [0,500,1000,1500,2000,2500,3000,3500,4000], "labels": false, "title": null}},
            "y": {"field": "v", "type": "quantitative", "axis": {"orient": "right", "values": [0.4,0.5,0.6,0.7,0.8,0.9], "labels": false, "title": null}},
            "color": {"field": "s", "type": "nominal", "scale": {"domain": ["EDP", "Obs"], "range": ["#0000ff", "#ff0000"]},
              "legend": {"orient": "none", "legendX": 756, "legendY": 141, "labelExpr": "datum.label === 'Obs' ? 'Observateur' : 'Modèle EDP'",
                "encode": {"symbols": {"update": {"strokeDash": {"signal": "datum.value === 'Obs' ? [20, 17] : [1, 0]"}, "strokeWidth": {"value": 2.5}}}}}}
          }
        }
      ],
      "resolve": {"axis": {"x": "independent", "y": "independent"}}
    }
  ],
  "resolve": {"scale": {"x": "independent", "y": "independent", "color": "independent"}, "legend": {"color": "independent"}},
  "config": {
    "view": {"stroke": null},
    "axis": {"grid": false, "domainColor": "#262626", "domainWidth": 1, "tickColor": "#262626", "tickWidth": 1, "tickSize": -11,
      "labelFont": "Liberation Sans", "labelFontSize": 18, "labelColor": "#262626", "labelPadding": 21, "labelFlush": false, "labelOverlap": false,
      "titleFont": "Liberation Serif", "titleFontSize": 25, "titleFontWeight": "normal", "titleColor": "#000000"},
    "axisX": {"titlePadding": 6},
    "axisY": {"titlePadding": 10},
    "legend": {"title": null, "labelFont": "Liberation Serif", "labelFontSize": 43, "labelColor": "#000000", "labelLimit": 900,
      "symbolType": "M-1.53,0L1.53,0", "symbolSize": 1849, "symbolStrokeWidth": 2.5, "strokeColor": "#333333", "fillColor": "#ffffff",
      "padding": 5, "rowPadding": 5, "labelOffset": 20.5, "symbolOffset": 15.5}
  }
}
